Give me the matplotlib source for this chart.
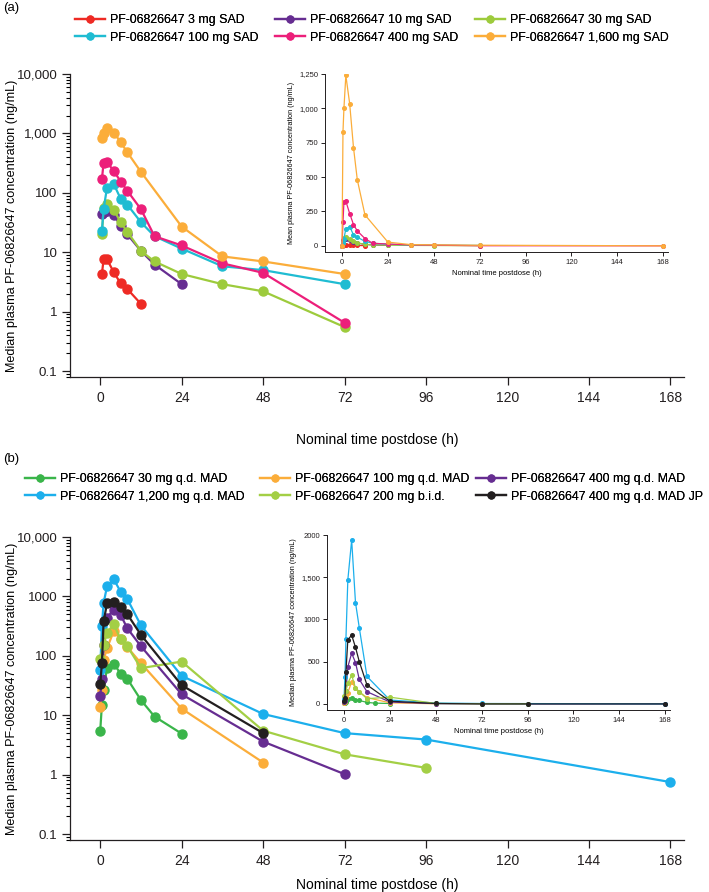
import numpy as np
import matplotlib.pyplot as plt
from matplotlib.ticker import LogLocator, NullFormatter

plt.rcParams['font.family'] = ['Liberation Sans', 'DejaVu Sans']

# ---- panel (a): single ascending dose ----
sad_labels = ["PF-06826647 3 mg SAD", "PF-06826647 10 mg SAD", "PF-06826647 30 mg SAD",
              "PF-06826647 100 mg SAD", "PF-06826647 400 mg SAD", "PF-06826647 1,600 mg SAD"]
sad_colors = ["#ee2a24", "#662d91", "#9dcb3c", "#1fbcd2", "#ec1f7a", "#fbad3a"]
sad_t = [
    [0, 0.5, 1, 2, 4, 6, 8, 12],
    [0, 0.5, 1, 2, 4, 6, 8, 12, 16, 24],
    [0, 0.5, 1, 2, 4, 6, 8, 12, 16, 24, 36, 48, 72],
    [0, 0.5, 1, 2, 4, 6, 8, 12, 16, 24, 36, 48, 72],
    [0, 0.5, 1, 2, 4, 6, 8, 12, 16, 24, 36, 48, 72, 168],
    [0, 0.5, 1, 2, 4, 6, 8, 12, 24, 36, 48, 72, 168],
]
sad_c = [
    [0, 4.3, 7.6, 7.6, 4.6, 3.0, 2.4, 1.35],
    [0, 44, 48, 50, 43, 28, 20, 10.5, 6.2, 2.9],
    [0, 20, 55, 65, 52, 32, 22, 10.5, 7.0, 4.3, 2.9, 2.2, 0.55],
    [0, 23, 53, 122, 140, 80, 63, 32, 18.6, 11.5, 5.8, 5.0, 2.9],
    [0, 170, 320, 325, 235, 155, 108, 53, 18.6, 13, 6.5, 4.5, 0.65, 0],
    [0, 830, 1000, 1240, 1035, 715, 480, 225, 27, 8.5, 7.0, 4.3, 0],
]
sad_yticklabels = ['0.1', '1', '10', '100', '1,000', '10,000']

# ---- panel (b): multiple ascending dose ----
mad_labels = ["PF-06826647 30 mg q.d. MAD", "PF-06826647 100 mg q.d. MAD", "PF-06826647 400 mg q.d. MAD",
              "PF-06826647 1,200 mg q.d. MAD", "PF-06826647 200 mg b.i.d.", "PF-06826647 400 mg q.d. MAD JP"]
mad_colors = ["#3ab54a", "#fbad3a", "#662d91", "#1cafec", "#a3cf45", "#231f20"]
mad_t = [
    [0, 0.5, 1, 2, 4, 6, 8, 12, 16, 24],
    [0, 0.5, 1, 2, 4, 6, 8, 12, 24, 48],
    [0, 0.5, 1, 2, 4, 6, 8, 12, 24, 48, 72, 96, 168],
    [0, 0.5, 1, 2, 4, 6, 8, 12, 24, 48, 72, 96, 168],
    [0, 1, 2, 4, 6, 8, 12, 24, 48, 72, 96],
    [0, 0.5, 1, 2, 4, 6, 8, 12, 24, 48, 72, 96, 168],
]
mad_c = [
    [5.4, 15, 27, 62, 74, 50, 41, 18, 9.5, 4.9],
    [13.5, 27, 85, 135, 260, 190, 140, 75, 12.9, 1.6],
    [21, 40, 150, 440, 600, 490, 290, 145, 22.5, 3.6, 1.02, 0, 0],
    [58, 320, 770, 1470, 1940, 1200, 900, 325, 46, 10.5, 5.0, 3.9, 0.75],
    [90, 150, 245, 340, 190, 145, 62, 80, 5.5, 2.2, 1.3],
    [33, 75, 380, 760, 815, 670, 500, 225, 32, 5.0, 0, 0, 0],
]
mad_yticklabels = ['0.1', '1', '10', '100', '1000', '10,000']

xticks = [0, 24, 48, 72, 96, 120, 144, 168]
W, H = 709, 892

fig = plt.figure(figsize=(W / 100, H / 100), dpi=100)


def px_axes(l, t, r, b):
    return fig.add_axes([l / W, 1 - b / H, (r - l) / W, (b - t) / H])


def style(ax, fs, lw=0.9):
    for s in ['top', 'right']:
        ax.spines[s].set_visible(False)
    for s in ['left', 'bottom']:
        ax.spines[s].set_linewidth(lw)
        ax.spines[s].set_color('#231f20')
    ax.tick_params(labelsize=fs, colors='#231f20', width=lw)


def main_panel(top, bottom, times, concs, colors, labels, yticklabels, xpad):
    ax = px_axes(70, top, 684, bottom)
    lines = []
    for t, c, col, lab in zip(times, concs, colors, labels):
        t = np.array(t, float)
        c = np.array(c, float)
        keep = c > 0
        ln, = ax.plot(t[keep], c[keep], '-o', color=col, lw=1.6, ms=6.5, label=lab)
        lines.append(ln)
    ax.set_yscale('log')
    ax.set_ylim(10 ** -1.1, 10 ** 4)
    ax.set_xlim(-8.9, 172)
    ax.set_xticks(xticks)
    ax.set_yticks([0.1, 1, 10, 100, 1000, 10000])
    ax.set_yticklabels(yticklabels)
    style(ax, 10)
    ax.tick_params(axis='y', labelsize=9.6)
    ax.tick_params(axis='x', length=6, pad=4)
    ax.tick_params(axis='y', which='major', length=6, pad=3)
    ax.yaxis.set_minor_locator(LogLocator(base=10, subs=np.arange(2, 10)))
    ax.yaxis.set_minor_formatter(NullFormatter())
    ax.tick_params(axis='y', which='minor', length=3, width=0.8)
    ax.set_xlabel("Nominal time postdose (h)", fontsize=10, labelpad=xpad)
    ax.set_ylabel("Median plasma PF-06826647 concentration (ng/mL)", fontsize=9.1)
    ax.yaxis.set_label_coords(-52 / 614, 0.5)
    return ax, lines


def inset_panel(l, t, r, b, times, concs, colors, ymax, yticks, ylabels, ylab):
    ax = px_axes(l, t, r, b)
    for tt, c, col in zip(times, concs, colors):
        ax.plot(tt, c, '-o', color=col, lw=0.9, ms=2.6)
    ax.set_xlim(-8.9, 170.5)
    ax.set_ylim(-0.036 * ymax, ymax)
    ax.set_xticks(xticks)
    ax.set_yticks(yticks)
    ax.set_yticklabels(ylabels)
    style(ax, 5.5, lw=0.7)
    ax.tick_params(length=3, pad=2)
    ax.set_xlabel("Nominal time postdose (h)", fontsize=5.5, labelpad=3)
    ax.set_ylabel(ylab, fontsize=5.2, labelpad=3)
    return ax


def column_legends(lines, labels, xs, top):
    # one legend per column so each column starts where the reference has it
    for k, x in enumerate(xs):
        idx = [k, k + 3]
        leg = fig.legend([lines[i] for i in idx], [labels[i] for i in idx],
                         loc='upper left', bbox_to_anchor=(x / W, 1 - top / H), frameon=False,
                         fontsize=8.9, handlelength=2.4, handletextpad=0.4,
                         labelspacing=0.45, borderaxespad=0, borderpad=0, markerscale=0.75)
        fig.add_artist(leg)


# panel (a)
ax_a, lines_a = main_panel(74, 377, sad_t, sad_c, sad_colors, sad_labels, sad_yticklabels, 20)
column_legends(lines_a, sad_labels, [75, 275, 475], 14)
fig.text(3 / W, 1 - 8 / H, "(a)", fontsize=9.5, va='center', ha='left')

inset_panel(325, 74, 668, 252, sad_t, sad_c, sad_colors, 1250,
            [0, 250, 500, 750, 1000, 1250], ['0', '250', '500', '750', '1,000', '1,250'],
            "Mean plasma PF-06826647 concentration (ng/mL)")

# panel (b)
ax_b, lines_b = main_panel(537, 840, mad_t, mad_c, mad_colors, mad_labels, mad_yticklabels, 7)
column_legends(lines_b, mad_labels, [25, 260, 476], 473)
fig.text(3 / W, 1 - 459 / H, "(b)", fontsize=9.5, va='center', ha='left')

inset_panel(327, 535, 670, 710, mad_t, mad_c, mad_colors, 2000,
            [0, 500, 1000, 1500, 2000], ['0', '500', '1000', '1,500', '2000'],
            "Median plasma PF-06826647 concentration (ng/mL)")

fig.savefig("out.png", dpi=100)
